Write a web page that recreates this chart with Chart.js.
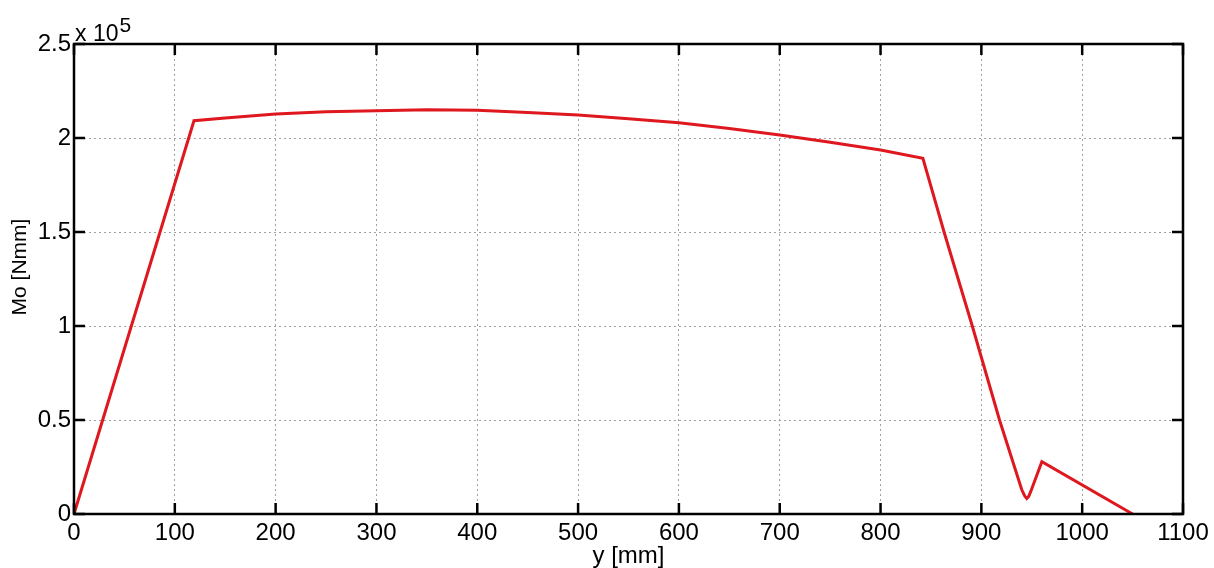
<!DOCTYPE html>
<html>
<head>
<meta charset="utf-8">
<script src="https://cdn.jsdelivr.net/npm/chart.js@4"></script>
<style>
  body { margin: 0; background: #fff; }
  #wrap { width: 1214px; height: 568px; position: relative; }
</style>
</head>
<body>
<div id="wrap"><canvas id="moChart"></canvas></div>
<script>
// position along y [mm] and bending moment Mo [Nmm]
const posMm = [0, 119, 150, 200, 250, 300, 350, 400, 450, 500, 550, 600, 650, 700, 750, 800, 842, 863, 891, 918, 940, 943, 945, 947, 949, 960, 1050];
const moNmm = [0, 209200, 210600, 212800, 214000, 214500, 215000, 214700, 213600, 212200, 210300, 208100, 205000, 201600, 197700, 193600, 189200, 150000, 100000, 50000, 13000, 9600, 8300, 9400, 12000, 27800, 0];

const xTicks = [0, 100, 200, 300, 400, 500, 600, 700, 800, 900, 1000, 1100];
const yTicks = [0, 50000, 100000, 150000, 200000, 250000];
const yExponent = 5;
const yTitle = 'Mo [Nmm]';

const font = 'Liberation Sans, Arial, Helvetica, sans-serif';

// MATLAB-style box: frame, inward ticks on all four sides, x 10^5 label and y title
const matlabBox = {
  id: 'matlabBox',
  afterDraw(chart) {
    const { ctx, chartArea: a, scales } = chart;
    ctx.save();
    ctx.strokeStyle = '#000';
    ctx.lineWidth = 2.5;
    ctx.strokeRect(a.left, a.top, a.right - a.left, a.bottom - a.top);
    ctx.beginPath();
    xTicks.forEach(v => {
      const px = scales.x.getPixelForValue(v);
      ctx.moveTo(px, a.bottom); ctx.lineTo(px, a.bottom - 11);
      ctx.moveTo(px, a.top); ctx.lineTo(px, a.top + 11);
    });
    yTicks.forEach(v => {
      const py = scales.y.getPixelForValue(v);
      ctx.moveTo(a.left, py); ctx.lineTo(a.left + 11, py);
      ctx.moveTo(a.right, py); ctx.lineTo(a.right - 11, py);
    });
    ctx.stroke();

    ctx.fillStyle = '#000';
    ctx.textBaseline = 'alphabetic';
    ctx.textAlign = 'left';
    ctx.font = '23px ' + font;
    ctx.fillText('x 10', a.left + 1, a.top - 3);
    const w = ctx.measureText('x 10').width;
    ctx.font = '21px ' + font;
    ctx.fillText(String(yExponent), a.left + 1 + w + 1, a.top - 12);

    // y axis title, rotated
    ctx.translate(20, 267);
    ctx.rotate(-Math.PI / 2);
    ctx.textAlign = 'center';
    ctx.textBaseline = 'middle';
    ctx.font = '21px ' + font;
    ctx.fillText(yTitle, 0, 0);
    ctx.restore();
  }
};

new Chart(document.getElementById('moChart'), {
  type: 'line',
  data: {
    datasets: [{
      data: posMm.map((p, i) => ({ x: p, y: moNmm[i] })),
      borderColor: 'rgb(222, 24, 30)',
      borderWidth: 3,
      pointRadius: 0,
      tension: 0,
      fill: false
    }]
  },
  options: {
    responsive: true,
    maintainAspectRatio: false,
    animation: false,
    layout: { padding: { top: 44, right: 31, left: 0, bottom: 0 } },
    plugins: { legend: { display: false }, tooltip: { enabled: false } },
    scales: {
      x: {
        type: 'linear',
        min: 0,
        max: 1100,
        afterFit(scale) { scale.height = 54; },
        afterBuildTicks(scale) { scale.ticks = xTicks.map(v => ({ value: v })); },
        grid: { color: '#a0a0a0', lineWidth: 1, drawTicks: false },
        border: { display: false, dash: [2, 3] },
        ticks: {
          color: '#000',
          font: { family: font, size: 24 },
          padding: 5,
          maxRotation: 0,
          autoSkip: false,
          callback: v => String(v)
        },
        title: {
          display: true,
          text: 'y [mm]',
          color: '#000',
          font: { family: font, size: 24 },
          padding: { top: 0, bottom: -3 }
        }
      },
      y: {
        min: 0,
        max: 250000,
        afterFit(scale) { scale.width = 74; },
        afterBuildTicks(scale) { scale.ticks = yTicks.map(v => ({ value: v })); },
        grid: { color: '#a0a0a0', lineWidth: 1, drawTicks: false },
        border: { display: false, dash: [2, 3] },
        ticks: {
          color: '#000',
          font: { family: font, size: 24 },
          padding: 3,
          callback: v => String(v / Math.pow(10, yExponent))
        }
      }
    }
  },
  plugins: [matlabBox]
});
</script>
</body>
</html>
